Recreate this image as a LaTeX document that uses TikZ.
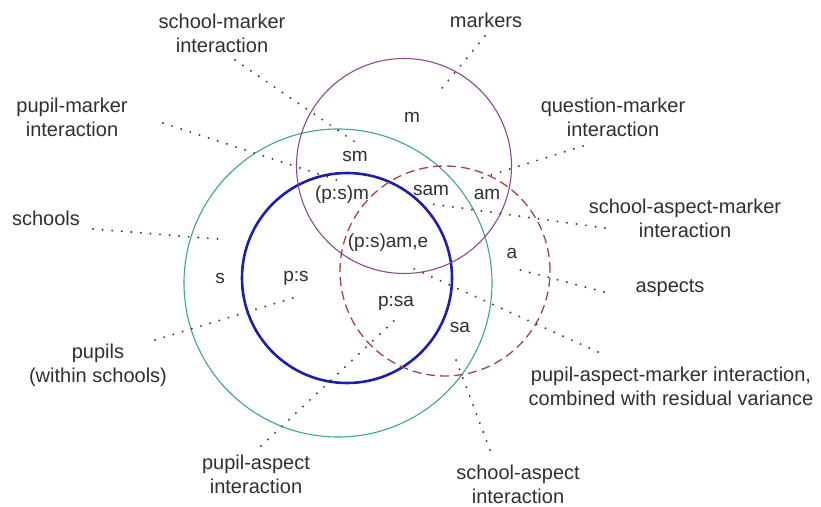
\documentclass[tikz,border=0pt]{standalone}
\usepackage{fontspec}
\setmainfont{Liberation Sans}
\definecolor{txt}{HTML}{303030}
\definecolor{tealc}{HTML}{3FA39B}
\definecolor{purc}{HTML}{8E4A90}
\definecolor{bluec}{HTML}{1E1EAE}
\definecolor{brownc}{HTML}{A04848}
\definecolor{dotc}{HTML}{404040}
\begin{document}
\begin{tikzpicture}[x=1pt,y=-1pt,
  ring/.style={draw,circle,inner sep=0pt},
  outer/.style={align=center,font=\fontsize{20}{24}\selectfont,text=txt,inner sep=0pt},
  inner/.style={font=\fontsize{19}{22}\selectfont,text=txt,inner sep=0pt},
  leader/.style={draw=dotc,line width=2.2pt,line cap=round,dash pattern=on 0pt off 9.6pt}]
\useasboundingbox[fill=white] (0,0) rectangle (821,506);
% circles
\node[ring,tealc,line width=1.1pt,minimum size=308pt] (schoolsC) at (338,283) {};
\node[ring,bluec,line width=2.6pt,minimum size=210pt] (pupilsC) at (347,278) {};
\node[ring,purc,line width=1.1pt,minimum size=215pt] (markersC) at (404,166) {};
\node[ring,brownc,line width=1.3pt,dash pattern=on 9pt off 5pt,minimum size=210pt] (aspectsC) at (445,271) {};
% inner labels
\node[inner] (m) at (412,117) {m};
\node[inner] (sm) at (355,156) {sm};
\node[inner] (psm) at (342,195) {(p:s)m};
\node[inner] (sam) at (431,190) {sam};
\node[inner] (am) at (487,194) {am};
\node[inner] (psame) at (388,243) {(p:s)am,e};
\node[inner] (a) at (512,253) {a};
\node[inner] (s) at (220,278) {s};
\node[inner] (ps) at (296,278) {p:s};
\node[inner] (psa) at (396,303) {p:sa};
\node[inner] (sa) at (460,327) {sa};
% outer labels
\node[outer] (Lsm) at (222,33) {school-marker\\interaction};
\node[outer] (Lpm) at (72,117) {pupil-marker\\interaction};
\node[outer] (Ls) at (46,218) {schools};
\node[outer] (Lm) at (486,20) {markers};
\node[outer] (Lqm) at (613,117) {question-marker\\interaction};
\node[outer] (Lsam) at (685,218) {school-aspect-marker\\interaction};
\node[outer] (La) at (670,288) {aspects};
\node[outer] (Lpam) at (671,386) {pupil-aspect-marker interaction,\\combined with residual variance};
\node[outer] (Lsa) at (518,484) {school-aspect\\interaction};
\node[outer] (Lpa) at (256,474) {pupil-aspect\\interaction};
\node[outer] (Lp) at (98,365) {pupils\\(within schools)};
% leader end points
\coordinate (c1a) at (235,60);  \coordinate (c1b) at (355,142);
\coordinate (c2a) at (163,123); \coordinate (c2b) at (343,182);
\coordinate (c3a) at (93,229);  \coordinate (c3b) at (218,239);
\coordinate (c4a) at (485,36);  \coordinate (c4b) at (438,93);
\coordinate (c5a) at (583,146); \coordinate (c5b) at (475,180);
\coordinate (c6a) at (605,228); \coordinate (c6b) at (432,204);
\coordinate (c7a) at (604,292); \coordinate (c7b) at (513,268);
\coordinate (c8a) at (598,352); \coordinate (c8b) at (410,267);
\coordinate (c9a) at (490,450); \coordinate (c9b) at (453,352);
\coordinate (c10a) at (261,446); \coordinate (c10b) at (397,318);
\coordinate (c11a) at (155,340); \coordinate (c11b) at (293,298);
\foreach \i in {1,...,11} {\draw[leader] (c\i a) -- (c\i b);}
\end{tikzpicture}
\end{document}
